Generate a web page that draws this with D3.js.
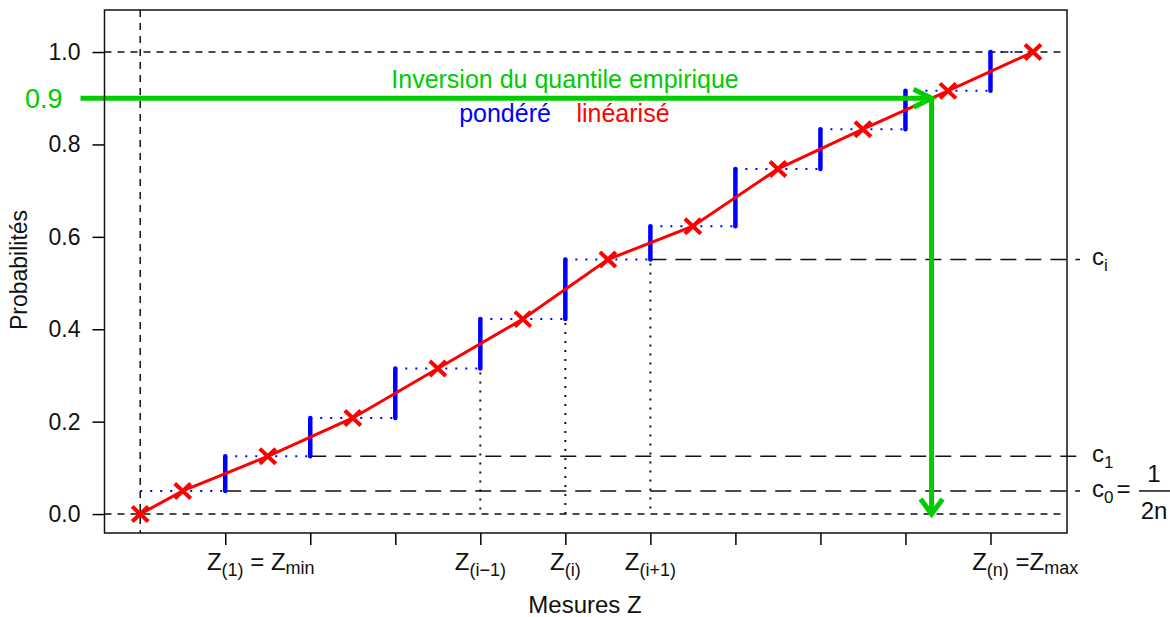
<!DOCTYPE html>
<html>
<head>
<meta charset="utf-8">
<script src="https://cdn.jsdelivr.net/npm/d3@7"></script>
<style>
  body { margin: 0; background: #fff; }
  svg { font-family: "Liberation Sans", Arial, sans-serif; }
</style>
</head>
<body>
<div id="chart"></div>
<script>
/**
 * DATA
 * */
// ranks of the ordered measures Z(1) ... Z(n)
const zRanks = [1, 2, 3, 4, 5, 6, 7, 8, 9, 10];
// weighted cumulative probabilities c0 ... cn
const cLevels = [0.05, 0.125, 0.208, 0.315, 0.422, 0.551, 0.623, 0.747, 0.833, 0.916, 1.0];
// knots of the linearised quantile function
const crossZ = [0, 0.5, 1.5, 2.5, 3.5, 4.5, 5.5, 6.5, 7.5, 8.5, 9.5, 10.5];
const crossP = [0, 0.05, 0.125, 0.208, 0.315, 0.422, 0.551, 0.623, 0.747, 0.833, 0.916, 1.0];
const yTicks = [0, 0.2, 0.4, 0.6, 0.8, 1.0];
const targetP = 0.9;
// horizontal reference levels c_k (k index into cLevels) with their subscript
const cRefs = [
  { k: 0, sub: "0" },
  { k: 1, sub: "1" },
  { k: 5, sub: "i" }
];
// dotted verticals under Z(i-1), Z(i), Z(i+1)
const dropRanks = [4, 5, 6];
// x labels
const xLabels = [
  { rank: 1, sub: "(1)", eq: " = ", sub2: "min" },
  { rank: 4, sub: "(i\u22121)" },
  { rank: 5, sub: "(i)" },
  { rank: 6, sub: "(i+1)" },
  { rank: 10, sub: "(n)", eq: " =", sub2: "max" }
];

/**
 * CONSTANTS
 * */
const width = 1170, height = 617;
const GREEN = "#00cc00", BLUE = "#0000ff", RED = "#ff0000";

const svg = d3.select("#chart").append("svg")
  .attr("width", width).attr("height", height);

const x = d3.scaleLinear().domain([-0.42, 10.9]).range([104.5, 1067]);
const y = d3.scaleLinear().domain([-0.041, 1.091]).range([533, 10]);

// axes
svg.append("g")
  .attr("transform", `translate(${x.range()[0]},0)`)
  .call(d3.axisLeft(y).tickValues(yTicks).tickSize(12).tickPadding(12).tickFormat(d3.format(".1f")))
  .call(g => g.select(".domain").remove())
  .call(g => g.selectAll("line").attr("stroke-width", 1.5))
  .call(g => g.selectAll("text").attr("font-size", 23).attr("font-family", null).attr("fill", "#111"));

svg.append("g")
  .attr("transform", `translate(0,${y.range()[0]})`)
  .call(d3.axisBottom(x).tickValues(zRanks).tickSize(12).tickFormat(""))
  .call(g => g.select(".domain").remove())
  .call(g => g.selectAll("line").attr("stroke-width", 1.5));

// dashed 0 / 1 lines and vertical at Z = 0
svg.selectAll("line.hdash")
  .data([0, 1])
  .join("line")
  .attr("class", "hdash")
  .attr("x1", x.range()[0]).attr("x2", x.range()[1] - 4)
  .attr("y1", d => y(d)).attr("y2", d => y(d))
  .attr("stroke", "#111").attr("stroke-width", 1.5).attr("stroke-dasharray", "7,6");

svg.append("line")
  .attr("x1", x(0)).attr("x2", x(0))
  .attr("y1", y.range()[1]).attr("y2", y.range()[0])
  .attr("stroke", "#111").attr("stroke-width", 1.5).attr("stroke-dasharray", "7,6");

// long dashed c levels, extending past the box
svg.selectAll("line.cref")
  .data(cRefs)
  .join("line")
  .attr("class", "cref")
  .attr("x1", d => x(zRanks[d.k])).attr("x2", x.range()[1] + 13)
  .attr("y1", d => y(cLevels[d.k])).attr("y2", d => y(cLevels[d.k]))
  .attr("stroke", "#111").attr("stroke-width", 1.5).attr("stroke-dasharray", "16,9");

// blue dotted steps
const stepStarts = [0].concat(zRanks);
svg.selectAll("line.step")
  .data(cLevels)
  .join("line")
  .attr("class", "step")
  .attr("x1", (d, i) => x(stepStarts[i]))
  .attr("x2", (d, i) => x(i < zRanks.length ? zRanks[i] : crossZ[crossZ.length - 1]))
  .attr("y1", d => y(d)).attr("y2", d => y(d))
  .attr("stroke", BLUE).attr("stroke-width", 2).attr("stroke-dasharray", "2,8");

// black dotted drops
svg.selectAll("line.drop")
  .data(dropRanks)
  .join("line")
  .attr("class", "drop")
  .attr("x1", d => x(d)).attr("x2", d => x(d))
  .attr("y1", d => y(cLevels[d - 1]) + 4).attr("y2", y(0))
  .attr("stroke", "#111").attr("stroke-width", 2).attr("stroke-dasharray", "2,7");

// blue weight bars
svg.selectAll("line.bar")
  .data(zRanks)
  .join("line")
  .attr("class", "bar")
  .attr("x1", d => x(d)).attr("x2", d => x(d))
  .attr("y1", (d, i) => y(cLevels[i])).attr("y2", (d, i) => y(cLevels[i + 1]))
  .attr("stroke", BLUE).attr("stroke-width", 4.5).attr("stroke-linecap", "round");

// red linearised curve
const knots = crossZ.map((z, i) => [z, crossP[i]]);
svg.append("path")
  .datum(knots)
  .attr("d", d3.line().x(d => x(d[0])).y(d => y(d[1])))
  .attr("fill", "none").attr("stroke", RED).attr("stroke-width", 3);

svg.selectAll("path.cross")
  .data(knots)
  .join("path")
  .attr("class", "cross")
  .attr("transform", d => `translate(${x(d[0])},${y(d[1])})`)
  .attr("d", "M-8,-7.5L8,7.5M-8,7.5L8,-7.5")
  .attr("stroke", RED).attr("stroke-width", 4);

// green inversion arrow
const j = d3.bisectLeft(crossP, targetP);
const zq = crossZ[j - 1] + (targetP - crossP[j - 1]) / (crossP[j] - crossP[j - 1]) * (crossZ[j] - crossZ[j - 1]);
const gx = x(zq), gy = y(targetP), g0 = y(0);
const green = svg.append("g").attr("stroke", GREEN).attr("stroke-width", 5).attr("fill", "none")
  .attr("stroke-linecap", "butt");
green.append("line").attr("x1", x.range()[0] - 24).attr("x2", gx).attr("y1", gy).attr("y2", gy);
green.append("path").attr("d", `M${gx - 18},${gy - 9}L${gx},${gy}L${gx - 18},${gy + 9}`);
green.append("line").attr("x1", gx).attr("x2", gx).attr("y1", gy).attr("y2", g0);
green.append("path").attr("d", `M${gx - 11},${g0 - 15}L${gx},${g0}L${gx + 11},${g0 - 15}`);

svg.append("text")
  .attr("x", x.range()[0] - 42).attr("y", gy + 10)
  .attr("text-anchor", "end").attr("font-size", 27).attr("fill", GREEN)
  .text("0.9");

// plot box
svg.append("rect")
  .attr("x", x.range()[0]).attr("y", y.range()[1])
  .attr("width", x.range()[1] - x.range()[0]).attr("height", y.range()[0] - y.range()[1])
  .attr("fill", "none").attr("stroke", "#111").attr("stroke-width", 1.5);

// annotations
svg.append("text").attr("x", 565).attr("y", 88)
  .attr("text-anchor", "middle").attr("font-size", 25).attr("fill", GREEN)
  .text("Inversion du quantile empirique");
svg.append("text").attr("x", 505).attr("y", 122)
  .attr("text-anchor", "middle").attr("font-size", 25).attr("fill", BLUE)
  .text("pondéré");
svg.append("text").attr("x", 623).attr("y", 122)
  .attr("text-anchor", "middle").attr("font-size", 25).attr("fill", RED)
  .text("linéarisé");

// c labels
cRefs.forEach(d => {
  const t = svg.append("text")
    .attr("x", x.range()[1] + 25).attr("y", y(cLevels[d.k]) + 6)
    .attr("font-size", 24).attr("fill", "#111");
  t.append("tspan").text("c");
  t.append("tspan").attr("font-size", 17).attr("dy", 6).text(d.sub);
  if (d.k === 0) {
    t.append("tspan").attr("dy", -6).attr("dx", 3).text("=");
    const fx = 1154, fy = y(cLevels[d.k]);
    svg.append("line").attr("x1", fx - 15).attr("x2", fx + 16)
      .attr("y1", fy).attr("y2", fy).attr("stroke", "#111").attr("stroke-width", 1.5);
    svg.append("text").attr("x", fx).attr("y", fy - 9).attr("text-anchor", "middle")
      .attr("font-size", 24).attr("fill", "#111").text("1");
    svg.append("text").attr("x", fx).attr("y", fy + 28).attr("text-anchor", "middle")
      .attr("font-size", 24).attr("fill", "#111").text("2n");
  }
});

// x labels: Z(sub) centred on its tick, suffix after it
xLabels.forEach(d => {
  const t = svg.append("text")
    .attr("x", x(d.rank)).attr("y", 570)
    .attr("text-anchor", "middle").attr("font-size", 24).attr("fill", "#111");
  t.append("tspan").text("Z");
  t.append("tspan").attr("font-size", 18).attr("dy", 6).text(d.sub);
  if (d.eq) {
    const bb = t.node().getBBox();
    const t2 = svg.append("text")
      .attr("x", bb.x + bb.width).attr("y", 570)
      .attr("font-size", 24).attr("fill", "#111")
      .attr("xml:space", "preserve");
    t2.append("tspan").text(d.eq + "Z");
    t2.append("tspan").attr("font-size", 18).attr("dy", 4).text(d.sub2);
  }
});

// axis titles
svg.append("text").attr("x", 585).attr("y", 613)
  .attr("text-anchor", "middle").attr("font-size", 24).attr("fill", "#111")
  .text("Mesures Z");
svg.append("text")
  .attr("transform", "translate(27,270) rotate(-90)")
  .attr("text-anchor", "middle").attr("font-size", 23).attr("fill", "#111")
  .text("Probabilités");
</script>
</body>
</html>
